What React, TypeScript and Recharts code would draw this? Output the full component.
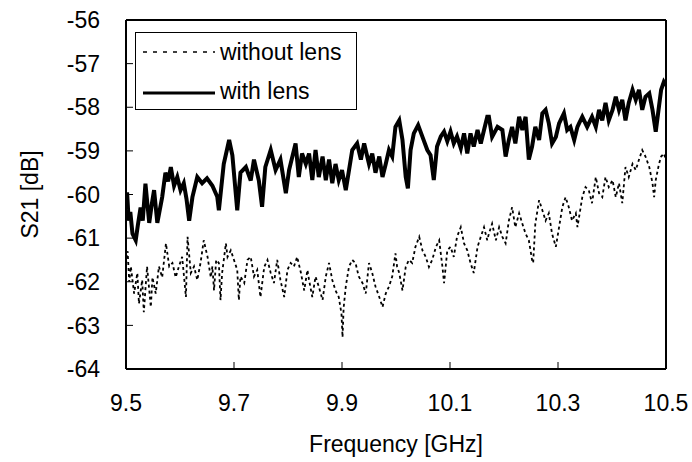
import React from "react";
import {
  LineChart,
  Line,
  XAxis,
  YAxis,
  Legend,
  ReferenceLine,
} from "recharts";

// S21 with lens (solid), frequency in GHz
const freqWith = [
  9.5, 9.502, 9.505, 9.508, 9.512, 9.518, 9.522, 9.527, 9.531, 9.536, 9.543,
  9.548, 9.552, 9.558, 9.567, 9.573, 9.578, 9.583, 9.589, 9.595, 9.601, 9.607,
  9.612, 9.617, 9.623, 9.632, 9.641, 9.65, 9.66, 9.669, 9.672, 9.681, 9.691,
  9.697, 9.706, 9.712, 9.722, 9.731, 9.737, 9.746, 9.752, 9.758, 9.768, 9.777,
  9.786, 9.796, 9.802, 9.814, 9.82, 9.826, 9.833, 9.839, 9.845, 9.851, 9.857,
  9.864, 9.87, 9.876, 9.882, 9.888, 9.894, 9.9, 9.907, 9.913, 9.919, 9.928,
  9.935, 9.941, 9.95, 9.956, 9.962, 9.969, 9.975, 9.981, 9.987, 9.993, 9.999,
  10.006, 10.012, 10.018, 10.022, 10.027, 10.033, 10.041, 10.049, 10.058,
  10.064, 10.07, 10.076, 10.083, 10.089, 10.095, 10.101, 10.107, 10.113, 10.12,
  10.126, 10.132, 10.138, 10.144, 10.151, 10.157, 10.163, 10.169, 10.172,
  10.178, 10.188, 10.197, 10.203, 10.209, 10.215, 10.221, 10.228, 10.234,
  10.24, 10.246, 10.252, 10.258, 10.265, 10.271, 10.277, 10.283, 10.289,
  10.296, 10.302, 10.311, 10.317, 10.323, 10.33, 10.336, 10.339, 10.345,
  10.354, 10.363, 10.37, 10.376, 10.382, 10.388, 10.394, 10.401, 10.407,
  10.413, 10.419, 10.425, 10.431, 10.438, 10.444, 10.45, 10.456, 10.462,
  10.469, 10.475, 10.481, 10.487, 10.491, 10.496, 10.5,
];
const s21With = [
  -60.35, -59.95, -60.6, -60.4, -60.9, -61.05, -60.7, -60.3, -60.6, -59.75,
  -60.65, -60.2, -59.9, -60.65, -60.06, -59.5, -59.7, -59.37, -59.8, -59.6,
  -59.9, -59.74, -60.1, -60.6, -60.06, -59.6, -59.74, -59.63, -59.8, -60.05,
  -60.36, -59.3, -58.75, -59.1, -60.36, -59.5, -59.37, -59.68, -59.2, -59.68,
  -60.28, -59.37, -58.98, -59.44, -59.2, -59.97, -59.44, -58.83, -59.6, -59.06,
  -59.3, -59.06, -59.67, -58.98, -59.6, -59.13, -59.67, -59.2, -59.74, -59.3,
  -59.67, -59.44, -59.9, -59.44, -58.98, -58.83, -59.2, -58.83, -59.3, -59.06,
  -59.5, -59.13, -59.6, -59.3, -58.98, -59.13, -58.45, -58.3, -58.75, -59.6,
  -59.86, -58.98, -58.6, -58.41, -58.68, -58.98, -59.1, -59.67, -58.9, -58.67,
  -58.56, -58.78, -58.56, -58.83, -58.67, -58.94, -58.6, -59.06, -58.6, -58.9,
  -58.52, -58.83, -58.52, -58.22, -58.22, -58.68, -58.45, -58.52, -59.13,
  -58.75, -58.45, -58.83, -58.22, -58.52, -58.22, -59.2, -58.9, -58.45, -58.75,
  -58.14, -58.06, -58.37, -58.83, -58.68, -58.37, -58.14, -58.52, -58.45,
  -58.75, -58.45, -58.37, -58.22, -58.45, -58.22, -58.45, -58.06, -58.3, -57.9,
  -58.3, -58.06, -57.76, -58.06, -57.83, -58.3, -57.9, -57.6, -57.83, -57.6,
  -58.06, -57.76, -57.68, -58.06, -58.56, -57.98, -57.6, -57.42, -57.5,
];

// S21 without lens (dotted)
const freqWithout = [
  9.5, 9.503, 9.506, 9.509, 9.515, 9.521, 9.524, 9.53, 9.533, 9.539, 9.546,
  9.549, 9.555, 9.561, 9.567, 9.574, 9.58, 9.586, 9.592, 9.598, 9.604, 9.611,
  9.614, 9.62, 9.626, 9.632, 9.638, 9.644, 9.651, 9.657, 9.66, 9.663, 9.667,
  9.672, 9.675, 9.678, 9.685, 9.688, 9.694, 9.7, 9.706, 9.709, 9.712, 9.719,
  9.725, 9.731, 9.737, 9.743, 9.749, 9.756, 9.762, 9.768, 9.774, 9.78, 9.786,
  9.793, 9.799, 9.805, 9.811, 9.817, 9.824, 9.83, 9.836, 9.839, 9.845, 9.851,
  9.857, 9.864, 9.87, 9.876, 9.882, 9.888, 9.894, 9.899, 9.901, 9.903, 9.907,
  9.913, 9.919, 9.925, 9.931, 9.938, 9.944, 9.95, 9.956, 9.962, 9.969, 9.975,
  9.981, 9.987, 9.993, 9.999, 10.002, 10.006, 10.012, 10.018, 10.024, 10.03,
  10.036, 10.043, 10.049, 10.055, 10.061, 10.067, 10.074, 10.08, 10.086,
  10.089, 10.095, 10.101, 10.107, 10.113, 10.12, 10.126, 10.132, 10.138,
  10.144, 10.151, 10.157, 10.163, 10.169, 10.172, 10.178, 10.185, 10.191,
  10.197, 10.203, 10.209, 10.215, 10.221, 10.228, 10.234, 10.24, 10.246,
  10.252, 10.254, 10.258, 10.265, 10.271, 10.277, 10.283, 10.289, 10.296,
  10.302, 10.308, 10.314, 10.32, 10.326, 10.333, 10.336, 10.339, 10.345,
  10.351, 10.357, 10.363, 10.37, 10.376, 10.382, 10.388, 10.394, 10.401,
  10.407, 10.413, 10.419, 10.425, 10.431, 10.438, 10.444, 10.45, 10.456,
  10.462, 10.469, 10.475, 10.478, 10.481, 10.487, 10.491, 10.496, 10.5,
];
const s21Without = [
  -61.6, -61.3, -62.0, -61.65, -62.27, -61.8, -62.5, -61.96, -62.7, -61.65,
  -62.58, -61.9, -62.27, -61.65, -61.9, -61.12, -61.65, -61.57, -61.9, -61.65,
  -61.43, -62.35, -60.97, -61.8, -61.65, -61.96, -61.57, -61.05, -61.43, -61.9,
  -61.65, -62.2, -61.5, -61.57, -62.42, -61.8, -61.12, -61.43, -61.28, -61.5,
  -61.73, -62.42, -61.88, -62.03, -61.5, -61.43, -61.88, -61.73, -62.35,
  -61.66, -61.5, -61.8, -62.03, -61.5, -61.96, -62.35, -61.73, -61.57, -61.65,
  -61.43, -61.8, -62.2, -61.73, -61.96, -62.35, -61.88, -62.11, -62.42, -61.88,
  -61.57, -61.96, -62.2, -62.35, -62.73, -63.27, -62.6, -62.11, -61.65, -61.5,
  -61.57, -61.88, -62.03, -62.27, -61.57, -61.8, -62.11, -62.35, -62.58,
  -62.27, -62.11, -61.88, -61.35, -61.65, -61.8, -62.2, -61.66, -61.5, -61.57,
  -61.2, -60.97, -61.28, -61.43, -61.66, -61.5, -61.2, -61.05, -61.66, -62.03,
  -61.28, -61.2, -61.43, -60.97, -60.75, -61.12, -61.28, -61.57, -61.8, -61.2,
  -60.97, -60.75, -61.05, -60.9, -60.67, -61.05, -60.75, -60.97, -61.12, -60.6,
  -60.29, -60.75, -60.43, -60.67, -60.9, -61.05, -61.5, -61.57, -60.67, -60.13,
  -60.36, -60.6, -60.43, -60.9, -61.2, -60.75, -60.29, -60.06, -60.29, -60.6,
  -60.43, -60.75, -60.52, -60.06, -59.83, -59.9, -60.2, -59.6, -59.97, -60.06,
  -59.6, -59.83, -59.67, -60.06, -59.74, -60.2, -59.37, -59.6, -59.3, -59.44,
  -59.2, -58.98, -59.13, -59.37, -59.74, -60.06, -59.67, -59.3, -59.13, -59.06,
  -59.2,
];

const xTicks = [9.5, 9.7, 9.9, 10.1, 10.3, 10.5];
const yTicks = [-64, -63, -62, -61, -60, -59, -58, -57, -56];

const withLensData = freqWith.map((f, i) => ({ f, v: s21With[i] }));
const withoutLensData = freqWithout.map((f, i) => ({ f, v: s21Without[i] }));

const FONT = "'Liberation Sans', Arial, sans-serif";
const tickStyle = { fill: "#000", fontSize: 23, fontFamily: FONT };

const LegendBox = () => (
  <div
    style={{
      width: 222,
      height: 78,
      boxSizing: "border-box",
      border: "1.5px solid #000",
      background: "#fff",
    }}
  >
    <svg width={219} height={75} style={{ display: "block" }}>
      <line x1={7} y1={19} x2={79} y2={19} stroke="#000" strokeWidth={1.5} strokeDasharray="4 6" />
      <text x={84} y={19} dominantBaseline="central" fontSize={23} fontFamily={FONT} fill="#000">
        without lens
      </text>
      <line x1={7} y1={60} x2={79} y2={60} stroke="#000" strokeWidth={3} />
      <text x={84} y={58} dominantBaseline="central" fontSize={23} fontFamily={FONT} fill="#000">
        with lens
      </text>
    </svg>
  </div>
);

export default function App() {
  return (
    <div style={{ position: "absolute", left: 0, top: 0, background: "#fff" }}>
      <LineChart
        width={692}
        height={462}
        margin={{ top: 20, right: 26, bottom: 0, left: 0 }}
      >
        <XAxis
          type="number"
          dataKey="f"
          domain={[9.5, 10.5]}
          ticks={xTicks}
          allowDataOverflow
          height={93}
          stroke="#000"
          strokeWidth={2}
          tickSize={-7}
          tickMargin={33}
          tick={tickStyle}
          tickLine={{ stroke: "#000", strokeWidth: 1 }}
          label={{
            value: "Frequency [GHz]",
            position: "insideBottom",
            offset: 10,
            fill: "#000",
            fontSize: 23,
            fontFamily: FONT,
          }}
        />
        <YAxis
          type="number"
          domain={[-64, -56]}
          ticks={yTicks}
          allowDataOverflow
          width={126}
          stroke="#000"
          strokeWidth={2}
          tickSize={-7}
          tickMargin={33}
          tick={tickStyle}
          tickLine={{ stroke: "#000", strokeWidth: 1 }}
          label={{
            value: "S21 [dB]",
            angle: -90,
            position: "insideLeft",
            offset: 30,
            fill: "#000",
            fontSize: 23,
            fontFamily: FONT,
            style: { textAnchor: "middle" },
          }}
        />
        <ReferenceLine y={-56} stroke="#000" strokeWidth={2} />
        <ReferenceLine x={10.5} stroke="#000" strokeWidth={2} />
        <Line
          data={withoutLensData}
          dataKey="v"
          type="linear"
          stroke="#000"
          strokeWidth={1.8}
          strokeDasharray="3 3"
          dot={false}
          isAnimationActive={false}
        />
        <Line
          data={withLensData}
          dataKey="v"
          type="linear"
          stroke="#000"
          strokeWidth={4}
          dot={false}
          isAnimationActive={false}
        />
        <Legend
          layout="vertical"
          align="center"
          verticalAlign="middle"
          content={<LegendBox />}
          wrapperStyle={{ left: 135, top: 32, width: 222, height: 78 }}
        />
      </LineChart>
    </div>
  );
}
